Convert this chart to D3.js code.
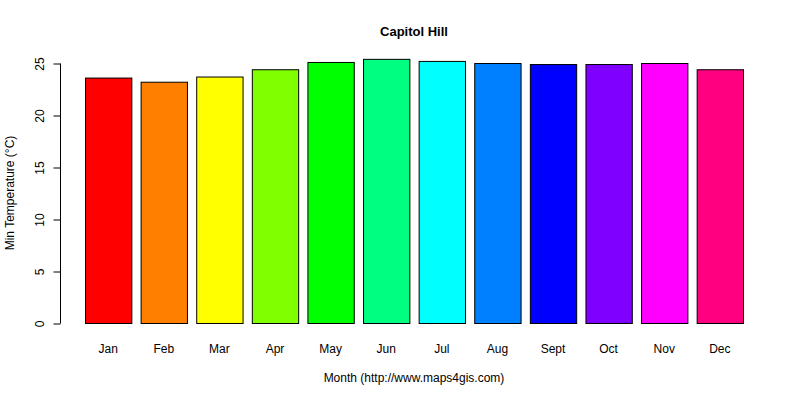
<!DOCTYPE html>
<html><head><meta charset="utf-8">
<script src="https://cdn.jsdelivr.net/npm/d3@7"></script>
<style>body{margin:0;background:#fff}text{font-family:"Liberation Sans",Arial,sans-serif}</style>
</head><body><svg id="c" width="800" height="400"></svg>
<script>
const months = ["Jan","Feb","Mar","Apr","May","Jun","Jul","Aug","Sept","Oct","Nov","Dec"];
const values = [23.6,23.2,23.7,24.4,25.1,25.4,25.2,25.0,24.9,24.9,25.0,24.4];
const colors = ["#FF0000","#FF8000","#FFFF00","#80FF00","#00FF00","#00FF80","#00FFFF","#0080FF","#0000FF","#8000FF","#FF00FF","#FF0080"];
const yTicks = [0,5,10,15,20,25];
const svg = d3.select("#c");
const x = d3.scaleBand().domain(months).range([85,743]).paddingInner(1/6).paddingOuter(0);
const y = d3.scaleLinear().domain([0,25]).range([323,63]);
svg.selectAll("rect").data(values).join("rect")
  .attr("x",(d,i)=>x(months[i])+0.5).attr("y",d=>y(d)+0.5)
  .attr("width",x.bandwidth()).attr("height",d=>y(0)-y(d))
  .attr("fill",(d,i)=>colors[i]).attr("stroke","#000");
const ya = svg.append("g").attr("transform","translate(60.5,0.5)")
  .call(d3.axisLeft(y).tickValues(yTicks).tickSize(7).tickFormat(d3.format("d")));
ya.select(".domain").attr("d","M-7,"+y(0)+"H0V"+y(25)+"H-7").remove();
ya.append("line").attr("x1",0).attr("x2",0).attr("y1",y(0)).attr("y2",y(25)).attr("stroke","#000");
ya.selectAll(".tick text").attr("font-size",12).attr("fill","#000")
  .attr("transform","rotate(-90)").attr("x",0).attr("dx",null).attr("y",-15).attr("dy",null).attr("text-anchor","middle")
  .each(function(){const t=d3.select(this);});
ya.selectAll(".tick text").attr("transform",null).attr("x",null).attr("y",null);
ya.selectAll(".tick").each(function(d){
  const g=d3.select(this); g.select("text").remove();
  g.append("text").attr("transform","translate(-17,0) rotate(-90)").attr("text-anchor","middle")
   .attr("font-size",12).attr("fill","#000").text(d);
});
svg.selectAll(".mlab").data(months).join("text").attr("class","mlab")
  .attr("x",d=>x(d)+x.bandwidth()/2).attr("y",353).attr("text-anchor","middle")
  .attr("font-size",12).text(d=>d);
svg.append("text").attr("x",414).attr("y",36).attr("text-anchor","middle")
  .attr("font-size",13).attr("font-weight","bold").text("Capitol Hill");
svg.append("text").attr("x",414).attr("y",382).attr("text-anchor","middle")
  .attr("font-size",12).text("Month (http://www.maps4gis.com)");
svg.append("text").attr("transform","translate(14,193) rotate(-90)").attr("text-anchor","middle")
  .attr("font-size",12).text("Min Temperature (°C)");
</script></body></html>
